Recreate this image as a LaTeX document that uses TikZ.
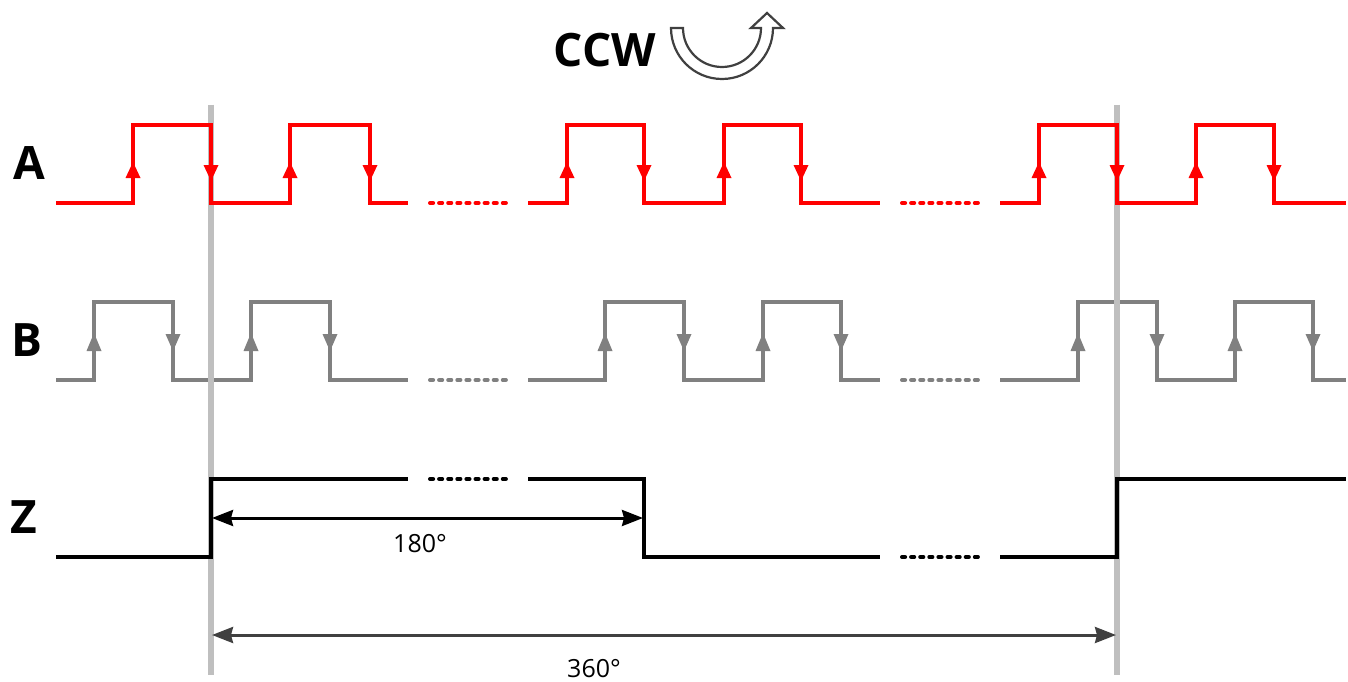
\documentclass[tikz,border=0pt]{standalone}
\usepackage{fontspec}
\setmainfont{Open Sans}
\usetikzlibrary{arrows.meta}
\definecolor{sigA}{HTML}{FF0000}
\definecolor{sigB}{HTML}{808080}
\definecolor{guide}{HTML}{BFBFBF}
\definecolor{dark}{HTML}{404040}
\begin{document}
\begin{tikzpicture}[x=1pt,y=-1pt,
  wave/.style={line width=3.6pt,line join=miter},
  dots/.style={line width=4pt,line cap=round,dash pattern=on 3.1pt off 6pt},
  guideline/.style={guide,line width=6pt},
  dimtip/.style={Stealth[length=21pt,width=16pt,inset=2pt]},
  dim/.style={line width=3pt,{Stealth[length=21pt,width=16pt,inset=2pt]}-{Stealth[length=21pt,width=16pt,inset=2pt]}},
  lbl/.style={font=\fontsize{46}{50}\selectfont\bfseries,inner sep=0pt},
  deg/.style={font=\fontsize{25}{28}\selectfont,inner sep=0pt}]
\useasboundingbox[fill=white] (0,0) rectangle (1348,682);

% labels
\node[lbl] (labA) at (29,163) {A};
\node[lbl] (labB) at (27,340) {B};
\node[lbl] (labZ) at (24,517) {Z};
\node[lbl] (ccw) at (605,50) {CCW};

% rotation arrow
\draw[dark,line width=2.2pt,fill=white,line join=miter]
  (671,28) arc[start angle=180,end angle=0,radius=51] -- (783,28) -- (767,13) -- (751,28) -- (761,28)
  arc[start angle=0,end angle=180,radius=39] -- cycle;

% signal B
\begin{scope}[sigB]
\draw[wave] (56,380) -| (94,302) -| (173,380) -| (251,302) -| (330,380) -- (408,380);
\draw[wave] (528,380) -| (605,302) -| (684,380) -| (763,302) -| (841,380) -- (880,380);
\draw[wave] (1000,380) -| (1078,302) -| (1157,380) -| (1235,302) -| (1313,380) -- (1346,380);
\draw[dots] (430,380) -- (508,380);
\draw[dots] (902,380) -- (980,380);
\foreach \x in {94,251,605,763,1078,1235} \fill (\x,333) -- ++(-7.5,18) -- ++(15,0) -- cycle;
\foreach \x in {173,330,684,841,1157,1313} \fill (\x,351) -- ++(-7.5,-17) -- ++(15,0) -- cycle;
\end{scope}

% guide lines
\coordinate (g1t) at (211,105);
\coordinate (g1b) at (211,675);
\coordinate (g2t) at (1117,105);
\coordinate (g2b) at (1117,675);
\draw[guideline] (g1t) -- (g1b);
\draw[guideline] (g2t) -- (g2b);

% signal A
\begin{scope}[sigA]
\draw[wave] (56,203) -| (133,125) -| (211,203) -| (290,125) -| (370,203) -- (408,203);
\draw[wave] (528,203) -| (567,125) -| (644,203) -| (724,125) -| (801,203) -- (880,203);
\draw[wave] (1000,203) -| (1039,125) -| (1117,203) -| (1196,125) -| (1274,203) -- (1346,203);
\draw[dots] (430,203) -- (508,203);
\draw[dots] (902,203) -- (980,203);
\foreach \x in {133,290,567,724,1039,1196} \fill (\x,162) -- ++(-7.5,16) -- ++(15,0) -- cycle;
\foreach \x in {211,370,644,801,1117,1274} \fill (\x,181) -- ++(-7.5,-16) -- ++(15,0) -- cycle;
\end{scope}

% signal Z
\draw[wave] (56,557) -| (211,479) -- (408,479);
\draw[dots] (430,479) -- (508,479);
\draw[wave] (528,479) -| (644,557) -- (880,557);
\draw[dots] (902,557) -- (980,557);
\draw[wave] (1000,557) -| (1117,479) -- (1346,479);

% dimensions
\coordinate (d1a) at (212,518);
\coordinate (d1b) at (643,518);
\draw[dim] (d1a) -- (d1b);
\node[deg] (t180) at (420,544) {180°};
\coordinate (d2a) at (212,635);
\coordinate (d2b) at (1116,635);
\draw[dim,dark] (d2a) -- (d2b);
\node[deg] (t360) at (594,669) {360°};
\end{tikzpicture}
\end{document}
